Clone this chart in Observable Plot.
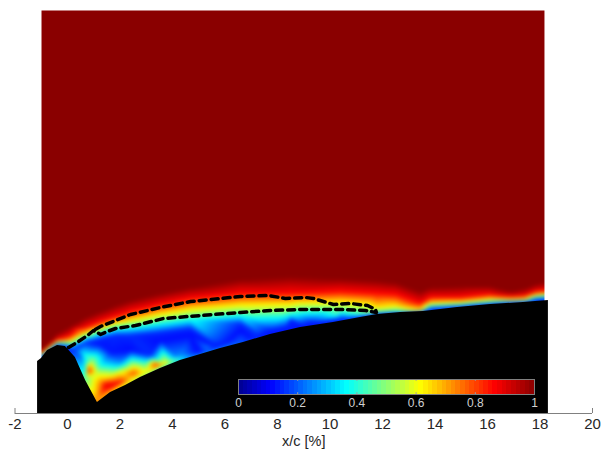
<!DOCTYPE html>
<html><head><meta charset="utf-8">
<script src="https://cdn.jsdelivr.net/npm/d3@7"></script>
<script src="https://cdn.jsdelivr.net/npm/@observablehq/plot@0.6"></script>
<style>
html,body{margin:0;padding:0;background:#fff}
#wrap{position:relative;width:611px;height:455px;overflow:hidden}
#bar{position:absolute;left:218px;top:379px}
svg{display:block}
</style></head><body><div id="wrap"><div id="main"></div><div id="bar"></div></div>
<script>
// Chord station x/c [%] and the height (in picture units above the axis) of each colour level
const stationX=[-.99,-.38,.11,.69,1.26,1.83,2.4,3.54,4.69,6.59,8.5,10.4,11.77,12.5,13.45,13.83,14.97,16.11,16.88,17.45,17.83,18.17];
const level100=[63,80,87,96,102,108,113,120,126,134,137,135,133,131,122,126,127,127,122,125,129,131];
const level86=[61,74,78,86,92,97,102,109,115,120,120,122,120,119,110,116,116,119,117,118,122,123];
const level62=[59,72,72,80,85,90,93,99,104,108,109,111,105,107,103,110,111,114,113.5,114,118,119];
const level38=[57,70,69,76,81,85,86,90,94,98,99,101,100.5,101.5,102,107,108.5,111,112,112.5,116,117];
const level15=[56,68.5,66,71,75,78,78,81,85,90,94,95,99.5,101,101.5,105,107,109.5,111,111.5,114,114.5];
const topHeight=403;
// Pockets inside the separated region
const pocketX=[.8,.95,.57,.19,.69,.5,1.14,.69,1.14,1.26,1.45,1.94,1.64,2.51,2.02,2.59,2.9,3.35,2.97,3.73,1.26,2.02,3.16,4.11,4.3,4.88,5.37,6.02,6.59,7.28,7.73,8.3,9.26,10.21,11.16,2.4,1.64,3.54,4.69,6.59,8.5,1.26,1.26,2.21,3.16,.9,5.1,5.7,7.0,8.0,9.0];
const pocketH=[43,53,61,63,51,57,41,35,15,27,28,30,38,40,43,35,41,48,51,49,48,51,58,57,57,61,64,70,72,80,83,87,91,97,98,63,61,73,78,83,93,68,33,37,45,36,61,67,75,84,88];
const pocketV=[.85,.5,.33,.15,.38,.2,.55,.45,.72,.75,.9,.88,.6,.8,.55,.6,.62,.88,.4,.65,.38,.25,.15,.24,.26,.13,.24,.13,.2,.17,.13,.15,.13,.37,.38,.12,.13,.12,.12,.12,.13,.13,.7,.7,.65,.55,.13,.13,.13,.13,.13];
// Surface profile
const wallX=[-1.14,-.99,-.76,-.38,-.08,.3,.69,1.14,1.64,2.21,2.78,3.54,4.3,5.07,5.83,6.7,7.73,8.88,10.13,11.16,11.81,12.69,13.56,14.86,16.11,17.37,17.83,18.32];
const wallH=[52,55,63,68,67,56,33,11,21,28,36,45,53,59,65,71,79,86,91,96,99,101,102,106,109,111,112,113];
// Dashed contour
const dashX=[.04,.42,.76,.99,1.26,1.52,1.83,2.59,3.66,5.07,6.59,7.73,8.88,10.4,11.35,11.77,11.73,11.43,10.78,10.13,9.37,9.07,8.3,7.66,6.59,4.69,3.54,2.4,1.83,1.26,.99];
const dashH=[66,72,78,83,79,82,85,88,95,98,101,103,104,104,103,101,104,108,110,109,115,116,115,118,117,112,106,99,93,87,83];
const ticks=[-2,0,2,4,6,8,10,12,14,16,18,20];
const barTicks=[0,.2,.4,.6,.8,1];
const jetStops=[0,.11,.365,.615,.865,1];
const jetColors=["#00008f","#0000ff","#00ffff","#ffff00","#ff0000","#8a0000"];
const font="'Liberation Sans',Arial,sans-serif";

const field=[];
stationX.forEach((x,i)=>{
  field.push({x,h:topHeight,v:1},{x,h:level100[i],v:1},{x,h:level86[i],v:.86},{x,h:level62[i],v:.62},{x,h:level38[i],v:.38},{x,h:level15[i],v:.15});
});
pocketX.forEach((x,i)=>field.push({x,h:pocketH[i],v:pocketV[i]}));
const wall=wallX.map((x,i)=>({x,h:wallH[i]}));
const dash=dashX.map((x,i)=>({x,h:dashH[i]}));
const colorOpt={type:"linear",domain:jetStops,range:jetColors,clamp:true};

document.getElementById("main").append(Plot.plot({
  width:611,height:455,marginLeft:14.5,marginRight:19,marginTop:10,marginBottom:42,
  style:{fontFamily:font,fontSize:"15px",background:"#fff",color:"#262626"},
  x:{domain:[-2,20],label:null},
  y:{domain:[0,topHeight],axis:null},
  color:colorOpt,
  marks:[
    Plot.raster(field,{x:"x",y:"h",fill:"v",interpolate:"barycentric",blur:1.5,x1:-.99,x2:18.17,y1:0,y2:topHeight}),
    Plot.ruleY([0],{stroke:"#808080",strokeWidth:1}),
    Plot.ruleX(ticks,{x:d=>d,y1:0,y2:5,stroke:"#808080"}),
    Plot.axisX(ticks,{tickSize:0,tickPadding:5,fontSize:15,label:null,tickFormat:d=>String(d)}),
    Plot.text(["x/c [%]"],{frameAnchor:"bottom",dy:32,fontSize:14.5,fill:"#262626"}),
    Plot.areaY(wall,{x:"x",y1:0,y2:"h",fill:"#000"}),
    Plot.line(dash,{x:"x",y:"h",stroke:"#000",strokeWidth:3.5,strokeDasharray:"7,5",curve:"linear"})
  ]
}));

const levels=d3.range(64);
document.getElementById("bar").append(Plot.plot({
  width:336,height:34,marginLeft:20,marginRight:20,marginTop:0,marginBottom:19,
  style:{fontFamily:font,fontSize:"12px",background:"transparent",color:"#d0d0d0"},
  x:{domain:[0,1]},
  y:{domain:[0,1],axis:null},
  color:colorOpt,
  marks:[
    Plot.rect(levels,{x1:d=>d/64,x2:d=>(d+1)/64,y1:0,y2:1,fill:d=>(d+.5)/64,shapeRendering:"crispEdges"}),
    Plot.ruleX(barTicks,{x:d=>d,y1:0,y2:.12,stroke:"#a0a0a0"}),
    Plot.ruleX(barTicks,{x:d=>d,y1:.88,y2:1,stroke:"#a0a0a0"}),
    Plot.frame({stroke:"#808080"}),
    Plot.axisX(barTicks,{tickSize:0,tickPadding:4,fontSize:12,label:null,tickFormat:d=>String(d),fill:"#d0d0d0"})
  ]
}));
</script></body></html>
